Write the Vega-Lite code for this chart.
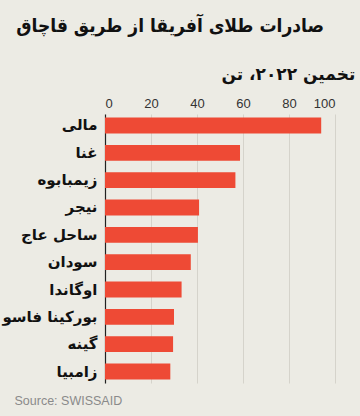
{
  "$schema": "https://vega.github.io/schema/vega-lite/v6.json",
  "autosize": "none",
  "width": 230,
  "height": 269,
  "padding": {"left": 105, "top": 114, "right": 25, "bottom": 33},
  "background": "#ecebe4",
  "config": {
    "view": {"stroke": null},
    "font": "DejaVu Sans"
  },
  "title": {
    "text": "صادرات طلای آفریقا از طریق قاچاق",
    "anchor": "end",
    "frame": "group",
    "font": "DejaVu Sans Condensed",
    "fontSize": 19,
    "fontWeight": "bold",
    "color": "#111111",
    "offset": 29,
    "dx": -11
  },
  "data": {
    "values": [
      {"country": "مالی", "tons": 94},
      {"country": "غنا", "tons": 58.7},
      {"country": "زیمبابوه", "tons": 56.7},
      {"country": "نیجر", "tons": 40.9},
      {"country": "ساحل عاج", "tons": 40.4},
      {"country": "سودان", "tons": 37.3},
      {"country": "اوگاندا", "tons": 33.3},
      {"country": "بورکینا فاسو", "tons": 30},
      {"country": "گینه", "tons": 29.6},
      {"country": "زامبیا", "tons": 28.4}
    ]
  },
  "layer": [
    {
      "mark": {"type": "bar", "color": "#ee4a35"},
      "encoding": {
        "y": {
          "field": "country",
          "type": "nominal",
          "sort": null,
          "scale": {"paddingInner": 0.42, "paddingOuter": 0.13},
          "axis": {
            "title": null,
            "ticks": false,
            "domainColor": "#222222",
            "domainWidth": 1.2,
            "labelFontSize": 15,
            "labelFontWeight": "bold",
            "labelColor": "#111111",
            "labelPadding": 8
          }
        },
        "x": {
          "field": "tons",
          "type": "quantitative",
          "scale": {"domain": [0, 100]},
          "axis": {
            "orient": "top",
            "title": "تخمین ۲۰۲۲، تن",
            "titleAnchor": "start",
            "titleAlign": "left",
            "titleX": 116,
            "titleY": -40,
            "titleBaseline": "middle",
            "titleFont": "DejaVu Sans",
            "titleFontSize": 17,
            "titleFontWeight": "bold",
            "titleColor": "#111111",
            "values": [0, 20, 40, 60, 80, 100],
            "ticks": false,
            "domain": false,
            "labelFontSize": 13,
            "labelColor": "#333333",
            "labelFont": "Liberation Sans",
            "labelPadding": 4,
            "gridColor": "#d5d3cb",
            "gridWidth": 1
          }
        }
      }
    },
    {
      "mark": {"type": "bar", "opacity": 0},
      "encoding": {
        "y": {"field": "country", "type": "nominal", "sort": null},
        "x": {
          "field": "tons",
          "type": "quantitative",
          "axis": {
            "orient": "bottom",
            "title": "Source: SWISSAID",
            "labels": false,
            "ticks": false,
            "domain": false,
            "grid": false,
            "titleAnchor": "start",
            "titleAlign": "left",
            "titleX": -91,
            "titleY": 17,
            "titleBaseline": "middle",
            "titleFont": "Liberation Sans",
            "titleFontSize": 12.5,
            "titleFontWeight": "normal",
            "titleColor": "#8a8a8a"
          }
        }
      }
    }
  ],
  "resolve": {"axis": {"x": "independent"}}
}
